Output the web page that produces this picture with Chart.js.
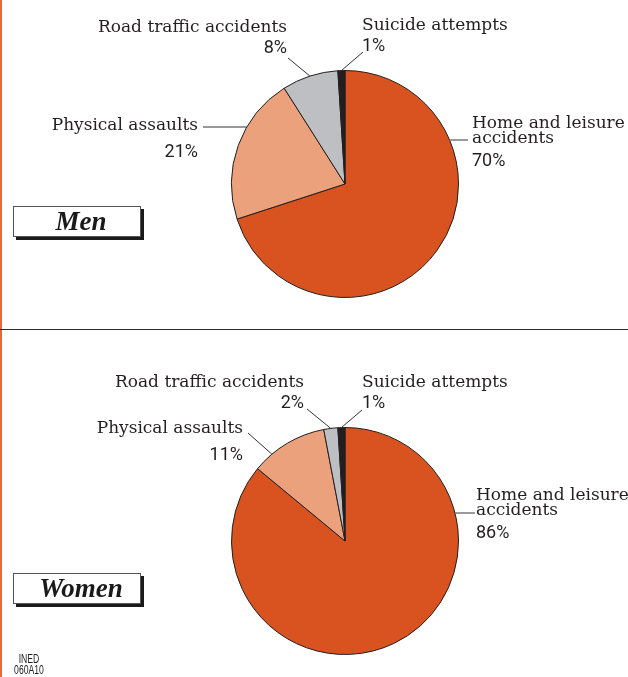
<!DOCTYPE html>
<html>
<head>
<meta charset="utf-8">
<script src="https://cdn.jsdelivr.net/npm/chart.js@4.4.1/dist/chart.umd.min.js"></script>
<style>
  html, body { margin: 0; padding: 0; background: #fff; }
  body { width: 628px; height: 677px; position: relative; overflow: hidden; }
  #edge { position: absolute; left: 0; top: 0; width: 2px; height: 677px; background: #E8663A; }
  #rule { position: absolute; left: 0; top: 329px; width: 628px; height: 1px; background: #2a2a2a; }
  canvas { position: absolute; left: 0; }
  #menCanvas { top: 0; }
  #womenCanvas { top: 330px; }
  .tag {
    position: absolute; left: 13px; box-sizing: border-box;
    width: 128px; height: 31px; padding-left: 8px;
    border: 1px solid #555; background: #fff;
    box-shadow: 3px 3px 0 #1a1a1a;
    font: italic bold 27px "Liberation Serif", serif;
    text-align: center; line-height: 29px; color: #1a1a1a;
  }
  #menTag { top: 206px; }
  #womenTag { top: 573px; }
  #ined {
    position: absolute; left: 4px; top: 654px; width: 50px;
    font: 12px "Liberation Sans", sans-serif;
    line-height: 11px; text-align: center; color: #222;
    transform: scaleX(0.72); transform-origin: 50% 0;
  }
</style>
</head>
<body>
<div id="edge"></div>
<canvas id="menCanvas" width="628" height="330"></canvas>
<canvas id="womenCanvas" width="628" height="347"></canvas>
<div id="rule"></div>
<div class="tag" id="menTag">Men</div>
<div class="tag" id="womenTag">Women</div>
<div id="ined">INED<br>060A10</div>

<script>
// Injury causes, shares in percent (clockwise from 12 o'clock)
const categoryLines = [
  ['Home and leisure', 'accidents'],
  ['Physical assaults'],
  ['Road traffic accidents'],
  ['Suicide attempts']
];
const categories = categoryLines.map(l => l.join(' '));
const menShares = [70, 21, 8, 1];
const womenShares = [86, 11, 2, 1];
const sliceColours = ['#D8531F', '#EBA27C', '#BEBFC3', '#231F20'];

const NAME_FONT = '17px "DejaVu Serif", serif';
const PCT_FONT = '18px Roboto, "Liberation Sans", sans-serif';
const INK = '#231F20';

// Draws the category name, its share and a leader line to the slice
const sliceLabels = {
  id: 'sliceLabels',
  afterDatasetsDraw(chart, args, opts) {
    const ctx = chart.ctx;
    const meta = chart.getDatasetMeta(0);
    const values = chart.data.datasets[0].data;
    ctx.save();
    opts.items.forEach((item, i) => {
      const arc = meta.data[i];
      const p = arc.getProps(['x', 'y', 'outerRadius', 'startAngle', 'endAngle'], true);
      const r = p.outerRadius;

      // leader line
      ctx.beginPath();
      ctx.lineWidth = item.leader.width || 1;
      ctx.strokeStyle = item.leader.colour || '#333';
      if (item.leader.level !== undefined) {
        const y = item.leader.level;
        const dx = Math.sqrt(Math.max(r * r - (y - p.y) * (y - p.y), 0));
        const xEdge = p.x + item.leader.side * dx;
        ctx.moveTo(item.leader.x, y);
        ctx.lineTo(xEdge, y);
      } else {
        const a = p.startAngle + item.leader.at * (p.endAngle - p.startAngle);
        ctx.moveTo(item.leader.x, item.leader.y);
        ctx.lineTo(p.x + r * Math.cos(a), p.y + r * Math.sin(a));
      }
      ctx.stroke();

      // texts
      ctx.fillStyle = INK;
      ctx.textAlign = item.align;
      ctx.textBaseline = 'alphabetic';
      ctx.font = NAME_FONT;
      categoryLines[i].forEach((line, k) => ctx.fillText(line, item.x, item.y + k * 15));
      ctx.font = PCT_FONT;
      ctx.fillText(values[i] + '%', item.x, item.pctY);
    });
    ctx.restore();
  }
};

function makePie(id, shares, padding, items) {
  return new Chart(document.getElementById(id), {
    type: 'pie',
    data: {
      labels: categories,
      datasets: [{
        data: shares,
        backgroundColor: sliceColours,
        borderColor: INK,
        borderWidth: 1
      }]
    },
    options: {
      responsive: false,
      animation: false,
      devicePixelRatio: 1,
      layout: { padding: padding },
      plugins: {
        legend: { display: false },
        tooltip: { enabled: false },
        sliceLabels: { items: items }
      }
    },
    plugins: [sliceLabels]
  });
}

makePie('menCanvas', menShares,
  { left: 231, right: 169, top: 70, bottom: 32 },
  [
    { x: 472, y: 128, pctY: 166, align: 'left',
      leader: { level: 140, x: 468, side: 1, colour: '#7a7a7a', width: 1.5 } },
    { x: 198, y: 130, pctY: 157, align: 'right',
      leader: { level: 127, x: 203, side: -1 } },
    { x: 287, y: 32, pctY: 53, align: 'right',
      leader: { x: 288, y: 58, at: 0.5 } },
    { x: 362, y: 30, pctY: 51, align: 'left',
      leader: { x: 363, y: 52, at: 0.5 } }
  ]);

makePie('womenCanvas', womenShares,
  { left: 231, right: 169, top: 97, bottom: 22 },
  [
    { x: 476, y: 170, pctY: 208, align: 'left',
      leader: { level: 183, x: 475, side: 1, colour: '#7a7a7a', width: 1.5 } },
    { x: 243, y: 103, pctY: 130, align: 'right',
      leader: { x: 248, y: 103, at: 0.26 } },
    { x: 304, y: 57, pctY: 78, align: 'right',
      leader: { x: 307, y: 79, at: 0.5 } },
    { x: 362, y: 57, pctY: 78, align: 'left',
      leader: { x: 362, y: 80, at: 0.5 } }
  ]);
</script>
</body>
</html>
